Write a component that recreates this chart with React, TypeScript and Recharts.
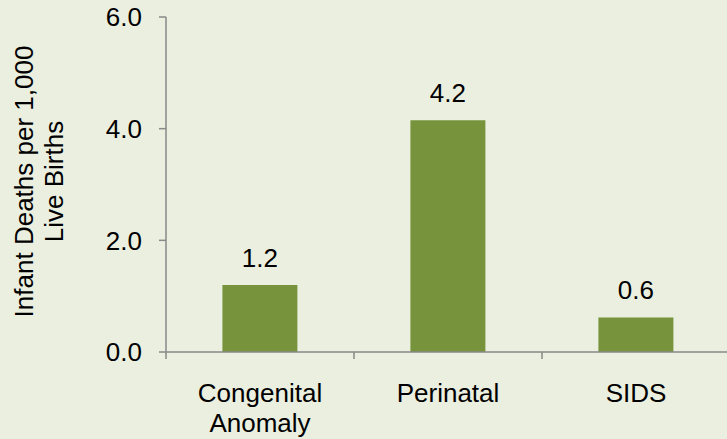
import { BarChart, Bar, XAxis, YAxis, LabelList } from 'recharts'

const causes = [['Congenital', 'Anomaly'], ['Perinatal'], ['SIDS']]
const deathRates = [1.2, 4.15, 0.62]
const yTicks = [0, 2, 4, 6]
const yLabelLines = ['Infant Deaths per 1,000', 'Live Births']

const chartData = causes.map((lines, i) => ({
  cause: lines.join(' '),
  rate: deathRates[i],
}))

const FONT = '"Liberation Sans", Arial, sans-serif'
const AXIS = '#898989'
const W = 740
const H = 439
const MARGIN = { top: 17, right: 10, bottom: 0, left: 0 }
const Y_W = 166
const bandWidth = (W - MARGIN.left - MARGIN.right - Y_W) / causes.length

function CauseTick(props: any) {
  const { x, y, payload, index } = props
  const lines = causes[index] ?? [String(payload.value)]
  const half = payload?.offset ?? bandWidth / 2
  const axisY = y - 8
  return (
    <g>
      <line x1={x - half} x2={x - half} y1={axisY} y2={axisY + 7} stroke={AXIS} strokeWidth={1.5} />
      {index === causes.length - 1 && (
        <line x1={x + half} x2={x + half} y1={axisY} y2={axisY + 7} stroke={AXIS} strokeWidth={1.5} />
      )}
      <text x={x} y={axisY + 50} textAnchor="middle" fontSize={26} fontFamily={FONT} fill="#000">
        {lines.map((l, i) => (
          <tspan key={i} x={x} dy={i === 0 ? 0 : 30}>{l}</tspan>
        ))}
      </text>
    </g>
  )
}

function YTitle(props: any) {
  const vb = props.viewBox ?? { y: 17, height: 335 }
  const cy = vb.y + vb.height / 2 - 3
  return (
    <g>
      {yLabelLines.map((l, i) => {
        const bx = 33 + i * 30
        return (
          <text key={i} x={bx} y={cy} transform={`rotate(-90 ${bx} ${cy})`} textAnchor="middle"
            fontSize={26} fontFamily={FONT} fill="#000">{l}</text>
        )
      })}
    </g>
  )
}

export default function App() {
  return (
    <div style={{ position: 'fixed', left: 0, top: 0, width: 727, height: 439, background: '#EBEFDF', overflow: 'hidden' }}>
      <BarChart width={W} height={H} data={chartData} margin={MARGIN} barCategoryGap="30%">
        <XAxis dataKey="cause" height={87} axisLine={{ stroke: AXIS, strokeWidth: 1.5 }} tickLine={false}
          tick={<CauseTick />} interval={0} tickMargin={0} tickSize={8} />
        <YAxis width={Y_W} domain={[0, 6]} ticks={yTicks} tickFormatter={(v: number) => v.toFixed(1)}
          axisLine={{ stroke: AXIS, strokeWidth: 1.5 }} tickLine={{ stroke: AXIS, strokeWidth: 1.5 }}
          tickSize={7} tickMargin={17} tick={{ fontSize: 26, fontFamily: FONT, fill: '#000' }}
          label={<YTitle />} />
        <Bar dataKey="rate" fill="#77933C" isAnimationActive={false}>
          <LabelList dataKey="rate" position="top" offset={18} formatter={(v: any) => Number(v).toFixed(1)}
            style={{ fontSize: 26, fontFamily: FONT, fill: '#000' }} />
        </Bar>
      </BarChart>
    </div>
  )
}
